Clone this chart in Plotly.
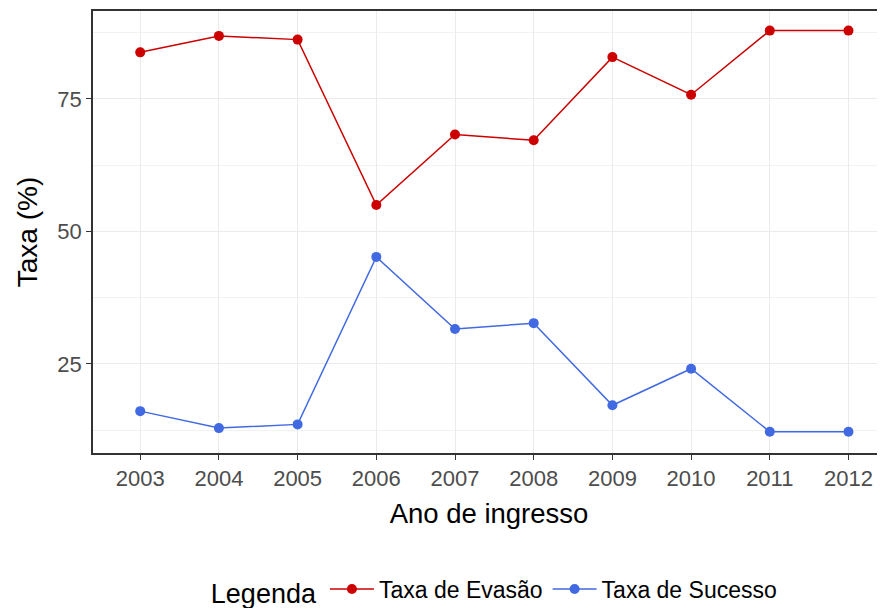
import plotly.graph_objects as go

anos = [2003, 2004, 2005, 2006, 2007, 2008, 2009, 2010, 2011, 2012]
taxa_evasao = [83.8, 86.9, 86.2, 55.0, 68.3, 67.2, 82.9, 75.8, 87.9, 87.9]
taxa_sucesso = [16.1, 12.9, 13.6, 45.2, 31.6, 32.7, 17.2, 24.1, 12.2, 12.2]
y_ticks = [25, 50, 75]
y_minor = [12.5, 37.5, 62.5, 87.5]
x_ticks = anos

FONT = "Liberation Sans, Arial, sans-serif"

fig = go.Figure()
fig.add_trace(go.Scatter(
    x=anos, y=taxa_evasao, mode="lines+markers", name="Taxa de Evasão",
    line=dict(color="#CC0000", width=1.5), marker=dict(color="#CC0000", size=10)))
fig.add_trace(go.Scatter(
    x=anos, y=taxa_sucesso, mode="lines+markers", name="Taxa de Sucesso",
    line=dict(color="#4169E1", width=1.5), marker=dict(color="#4169E1", size=10)))

fig.update_layout(
    width=877, height=620,
    margin=dict(l=85, r=0, t=3, b=175),
    paper_bgcolor="white", plot_bgcolor="white",
    font=dict(family=FONT, color="black"),
    showlegend=True,
    legend=dict(orientation="h", x=0.508, xanchor="center", y=-0.311, yanchor="middle",
                title=dict(text="Legenda", side="left", font=dict(size=27, color="black")),
                font=dict(size=23, color="black"), itemwidth=44, tracegroupgap=0),
    xaxis=dict(
        range=[2002.4, 2012.464], tickmode="array", tickvals=x_ticks,
        ticktext=[str(a) for a in x_ticks],
        showgrid=True, gridcolor="#EBEBEB", gridwidth=1.4,
        showline=True, linecolor="#333333", linewidth=1.5, mirror=True,
        ticks="outside", ticklen=5, tickcolor="#333333", tickwidth=1.3,
        tickfont=dict(size=22, color="#4D4D4D"),
        title=dict(text="Ano de ingresso", font=dict(size=27.5, color="black"), standoff=14),
        zeroline=False),
    yaxis=dict(
        range=[8.2, 91.6], tickmode="array", tickvals=y_ticks,
        showgrid=True, gridcolor="#EBEBEB", gridwidth=1.4,
        minor=dict(tickmode="array", tickvals=y_minor, showgrid=True,
                   gridcolor="#F2F2F2", gridwidth=1, ticks=""),
        showline=True, linecolor="#333333", linewidth=1.5, mirror=False,
        ticks="outside", ticklen=5, tickcolor="#333333", tickwidth=1.3,
        tickfont=dict(size=22, color="#4D4D4D"),
        title=dict(text="Taxa (%)", font=dict(size=28, color="black"), standoff=12),
        zeroline=False),
)

fig.write_html("out.html")
